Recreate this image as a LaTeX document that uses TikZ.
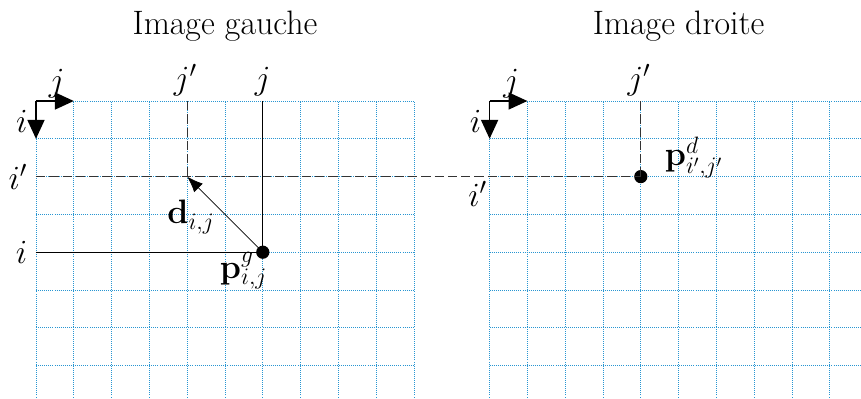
\RequirePackage{fix-cm}
\documentclass[tikz,border=0pt]{standalone}
\usetikzlibrary{arrows.meta,calc}
\definecolor{gridblue}{RGB}{40,150,210}
\begin{document}
\begin{tikzpicture}[x=1cm,y=1cm,
  gridline/.style={draw=gridblue, densely dotted, line width=0.55pt},
  axisarrow/.style={line width=1.2pt, -{Triangle[length=5mm,width=4.5mm]}},
  guide/.style={draw=black!80, dash pattern=on 7pt off 3pt, line width=0.7pt},
  solidline/.style={draw=black, line width=0.6pt},
  vecarrow/.style={draw=black, line width=0.6pt, -{Latex[length=4.2mm,width=3.2mm]}},
  lbl/.style={font=\fontsize{25.5}{30}\selectfont},
  dot/.style={circle, fill=black, inner sep=0pt, minimum size=3.5mm}]
\useasboundingbox (-0.952,-7.857) rectangle (21.825,2.672);
\clip (-0.952,-7.857) rectangle (21.825,2.672);
% grids
\draw[gridline] (0,0) grid (10,-8);
\draw[gridline] (12,0) grid (23,-8);
% named points
\coordinate (O1) at (0,0);
\coordinate (O1x) at (1,0);
\coordinate (O1y) at (0,-1);
\coordinate (O2) at (12,0);
\coordinate (O2x) at (13,0);
\coordinate (O2y) at (12,-1);
\coordinate (jtop) at (6,0);
\coordinate (jptop) at (4,0);
\coordinate (iprow) at (0,-2);
\coordinate (irow) at (0,-4);
\coordinate (dtip) at (4,-2);
\coordinate (jpdtop) at (16,0);
\coordinate (ipd) at (12,-2);
\node[dot] (pg) at (6,-4) {};
\node[dot] (pd) at (16,-2) {};
% guide lines
\draw[guide] (iprow) -- (pd.center);
\draw[guide] (jptop) -- (dtip);
\draw[guide] (jpdtop) -- (pd.center);
\draw[solidline] (jtop) -- (pg.center);
\draw[solidline] (irow) -- (pg.center);
\draw[vecarrow] (pg.center) -- (dtip);
% axes
\draw[axisarrow] (O1) -- (O1x);
\draw[axisarrow] (O1) -- (O1y);
\draw[axisarrow] (O2) -- (O2x);
\draw[axisarrow] (O2) -- (O2y);
% titles
\node[lbl] (tg) at (5,1.98) {Image gauche};
\node[lbl] (td) at (17,1.98) {Image droite};
% labels left
\node[lbl, above] (lj1) at (0.55,-0.05) {$j$};
\node[lbl, left] (li1) at (-0.1,-0.55) {$i$};
\node[lbl, above] (ljp) at (3.95,0) {$j'$};
\node[lbl, above] (lj) at (jtop) {$j$};
\node[lbl, left] (lip) at (-0.11,-2) {$i'$};
\node[lbl, left] (li) at (-0.11,-4) {$i$};
\node[lbl] (ld) at (4.1,-3.07) {$\mathbf{d}_{i,j}$};
\node[lbl] (lpg) at (5.49,-4.49) {$\mathbf{p}^{g}_{i,j}$};
% labels right
\node[lbl, above] (lj2) at (12.57,-0.05) {$j$};
\node[lbl, left] (li2) at (11.9,-0.55) {$i$};
\node[lbl, above] (ljpd) at (15.95,0) {$j'$};
\node[lbl, below left] (lipd) at (12.05,-2) {$i'$};
\node[lbl] (lpd) at (17.4,-1.5) {$\mathbf{p}^{d}_{i',j'}$};
\end{tikzpicture}
\end{document}
